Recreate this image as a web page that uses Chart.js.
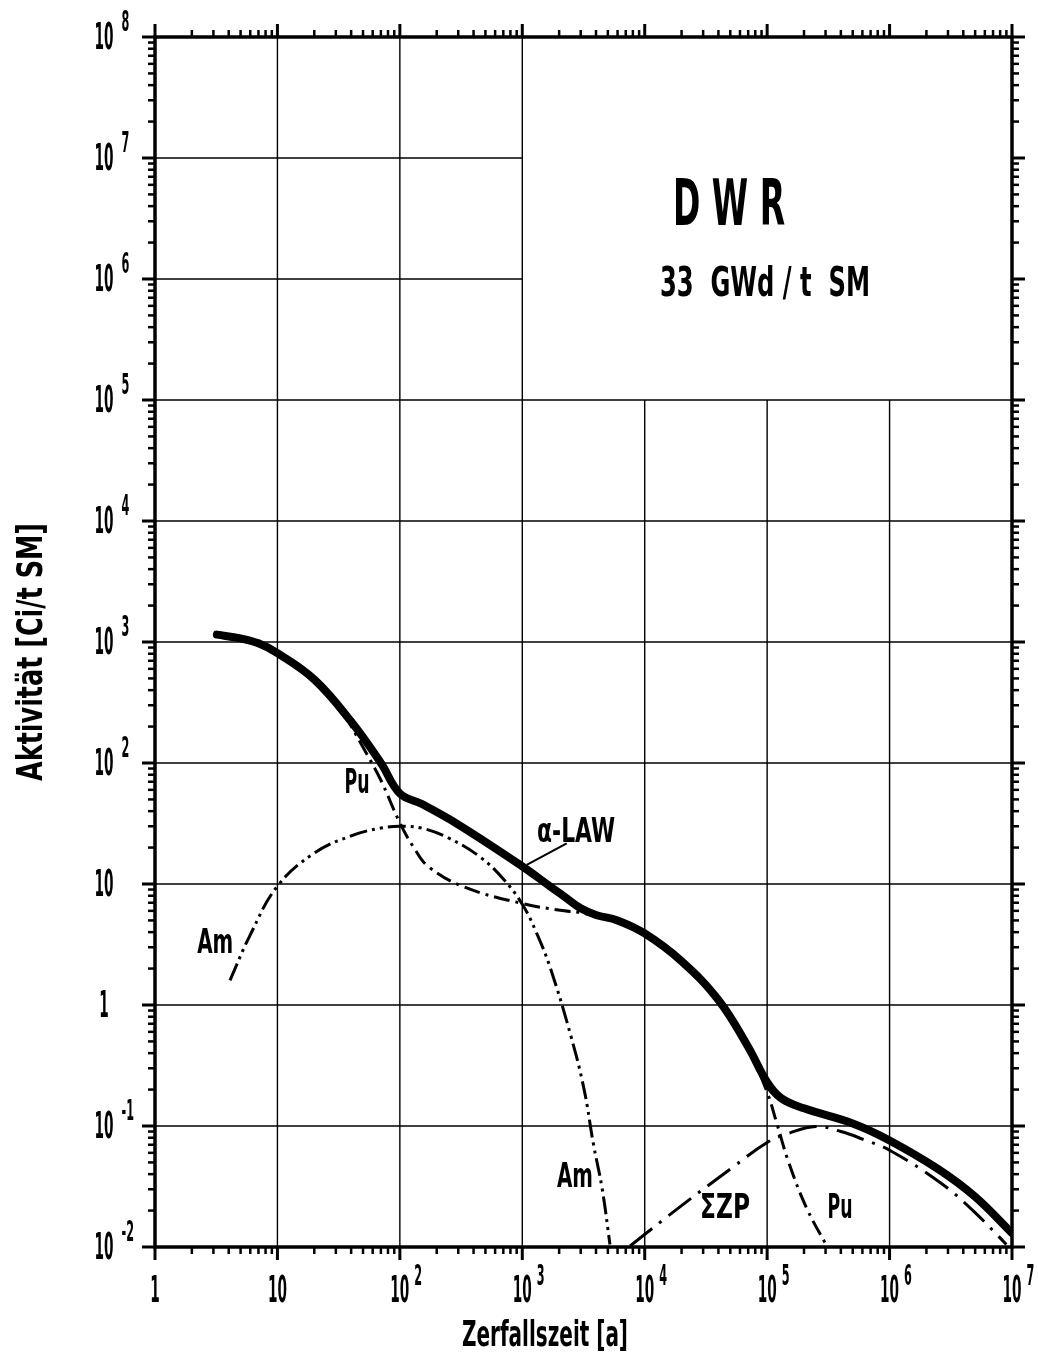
<!DOCTYPE html>
<html>
<head>
<meta charset="utf-8">
<script src="https://cdn.jsdelivr.net/npm/chart.js@4.4.1/dist/chart.umd.min.js"></script>
<style>
  html, body { margin: 0; padding: 0; background: #fff; }
  canvas { display: block; }
</style>
</head>
<body>
<canvas id="chart" width="1038" height="1355"></canvas>
<script>
// ─── Data ────────────────────────────────────────────────────────
const alphaX = [3.2, 5, 7, 10, 20, 40, 70, 100, 150, 300, 1000, 1700, 2200, 3000, 4000, 6000, 1e4, 2e4, 4e4, 7e4, 1e5, 1.3e5, 2e5, 5e5, 1e6, 2.5e6, 5e6, 1e7];
const alphaY = [1150, 1070, 975, 810, 490, 220, 100, 56, 46, 31, 14, 9.5, 7.9, 6.3, 5.55, 5.0, 3.9, 2.3, 1.1, 0.45, 0.23, 0.17, 0.14, 0.105, 0.076, 0.044, 0.026, 0.013];

const puX = [35, 50, 70, 100, 130, 170, 330, 1000, 2200, 3000, 6000, 1e4, 2e4, 4e4, 7e4, 1e5, 1.2e5, 1.5e5, 2.1e5, 3.1e5];
const puY = [255, 135, 72, 32, 20, 14, 9.5, 6.9, 6.0, 5.8, 4.8, 3.8, 2.2, 1.05, 0.43, 0.19, 0.105, 0.05, 0.021, 0.01];

const amX = [4.1, 6, 10, 20, 40, 70, 100, 150, 250, 450, 700, 1000, 1300, 1700, 2500, 3200, 3800, 4500, 5200];
const amY = [1.6, 3.8, 9.6, 18, 25, 29, 30, 29, 24, 16.8, 11, 6.8, 4.0, 2.0, 0.55, 0.2, 0.072, 0.03, 0.0105];

const zpX = [7600, 2e4, 5e4, 1e5, 1.5e5, 2.5e5, 4e5, 6e5, 1e6, 2.6e6, 4.8e6, 9e6];
const zpY = [0.0102, 0.022, 0.044, 0.073, 0.087, 0.099, 0.090, 0.078, 0.063, 0.034, 0.020, 0.0105];

// tick labels: mantissa + superscript exponent
const xTicks    = [1, 10, 1e2, 1e3, 1e4, 1e5, 1e6, 1e7];
const xTickBase = ['1', '10', '10', '10', '10', '10', '10', '10'];
const xTickExp  = ['', '', '2', '3', '4', '5', '6', '7'];
const yTicks    = [1e-2, 1e-1, 1, 10, 1e2, 1e3, 1e4, 1e5, 1e6, 1e7, 1e8];
const yTickBase = ['10', '10', '1', '10', '10', '10', '10', '10', '10', '10', '10'];
const yTickExp  = ['-2', '-1', '', '', '2', '3', '4', '5', '6', '7', '8'];

// curve labels [text, x, y]
const curveLabels = [
  ['Pu',    44.7,  71],
  ['α-LAW', 2750,  27.9],
  ['Am',    3.1,   3.4],
  ['Am',    2690,  0.039],
  ['ΣZP',   45300, 0.022],
  ['Pu',    3.94e5, 0.022],
];

const FONT = '"Liberation Sans Narrow", "DejaVu Sans Condensed", sans-serif';
const BOX_X = 1e3, BOX_Y = 1e5;   // blank upper-right panel for the title

const pts = (xs, ys) => xs.map((x, i) => ({ x, y: ys[i] }));

function drawText(ctx, s, x, y, size, o = {}) {
  ctx.save();
  ctx.font = `bold ${size}px ${FONT}`;
  ctx.textAlign = o.align || 'center';
  ctx.textBaseline = 'alphabetic';
  ctx.fillStyle = '#000';
  ctx.translate(x, y);
  if (o.rot) ctx.rotate(o.rot);
  const w = ctx.measureText(s).width;
  const sx = o.width ? o.width / w : (o.sx || 1);
  ctx.scale(sx, 1);
  ctx.fillText(s, 0, 0);
  ctx.restore();
  return w * sx;
}

function line(ctx, x1, y1, x2, y2) {
  ctx.beginPath();
  ctx.moveTo(x1, y1);
  ctx.lineTo(x2, y2);
  ctx.stroke();
}

// ─── Grid, frame, ticks, labels ──────────────────────────────────
const framePlugin = {
  id: 'frame',
  beforeDatasetsDraw(chart) {
    const { ctx, chartArea: a, scales: { x, y } } = chart;
    ctx.save();
    ctx.strokeStyle = '#000';
    ctx.lineWidth = 1.4;
    xTicks.slice(1, -1).forEach(v => {
      const px = x.getPixelForValue(v);
      const y0 = v > BOX_X ? y.getPixelForValue(BOX_Y) : a.top;
      line(ctx, px, y0, px, a.bottom);
    });
    yTicks.slice(1, -1).forEach(v => {
      const py = y.getPixelForValue(v);
      const x1 = v > BOX_Y ? x.getPixelForValue(BOX_X) : a.right;
      line(ctx, a.left, py, x1, py);
    });
    ctx.restore();
  },
  afterDatasetsDraw(chart) {
    const { ctx, chartArea: a, scales: { x, y } } = chart;
    ctx.save();
    ctx.strokeStyle = '#000';
    ctx.lineCap = 'butt';

    // minor + major ticks, pointing outward on all four sides
    xTicks.forEach(d => {
      for (let m = 1; m <= 9; m++) {
        const v = d * m;
        if (v > x.max * 1.0001) break;
        const px = x.getPixelForValue(v);
        const len = m === 1 ? 13 : 7;
        ctx.lineWidth = m === 1 ? 3 : 2.5;
        line(ctx, px, a.bottom, px, a.bottom + len);
        line(ctx, px, a.top, px, a.top - len);
      }
    });
    yTicks.forEach(d => {
      for (let m = 1; m <= 9; m++) {
        const v = d * m;
        if (v > y.max * 1.0001) break;
        const py = y.getPixelForValue(v);
        const len = m === 1 ? 13 : 7;
        ctx.lineWidth = m === 1 ? 3 : 2.5;
        line(ctx, a.left, py, a.left - len, py);
        line(ctx, a.right, py, a.right + len, py);
      }
    });

    ctx.lineWidth = 3.5;
    ctx.strokeRect(a.left, a.top, a.right - a.left, a.bottom - a.top);

    // tick labels
    ctx.font = `bold 37px ${FONT}`;
    const sx = 19 / ctx.measureText('10').width;
    xTicks.forEach((v, i) => {
      const px = x.getPixelForValue(v);
      const w = drawText(ctx, xTickBase[i], px, a.bottom + 55, 37, { sx });
      if (xTickExp[i]) drawText(ctx, xTickExp[i], px + w / 2 + 5, a.bottom + 38, 29, { sx: sx * 1.05, align: 'left' });
    });
    yTicks.forEach((v, i) => {
      const py = y.getPixelForValue(v);
      const w = drawText(ctx, yTickBase[i], 104, py + 12, 37, { sx });
      if (yTickExp[i]) drawText(ctx, yTickExp[i], 104 + w / 2 + 8, py - 6, 29, { sx: sx * 1.05, align: 'left' });
    });

    // axis titles
    drawText(ctx, 'Zerfallszeit [a]', 545, 1346, 35, { width: 166 });
    drawText(ctx, 'Aktivität [Ci/t SM]', 42, 652, 35, { width: 258, rot: -Math.PI / 2 });

    // panel title
    drawText(ctx, 'D W R', 729, 225, 64, { width: 112 });
    drawText(ctx, '33  GWd / t  SM', 765, 296, 40, { width: 210 });

    // curve labels
    curveLabels.forEach(([s, vx, vy]) => {
      const w = { 'Pu': 25, 'α-LAW': 78, 'Am': 36, 'ΣZP': 50 }[s];
      drawText(ctx, s, x.getPixelForValue(vx), y.getPixelForValue(vy) + 12, 33, { width: w });
    });

    // leader line from α-LAW label to its curve
    ctx.lineWidth = 2;
    line(ctx, x.getPixelForValue(1087), y.getPixelForValue(14.4),
              x.getPixelForValue(2306), y.getPixelForValue(21.7));
    ctx.restore();
  }
};

// ─── Chart ───────────────────────────────────────────────────────
const common = {
  borderColor: '#000',
  pointRadius: 0,
  fill: false,
  tension: 0.4,
};

new Chart(document.getElementById('chart'), {
  type: 'line',
  data: {
    datasets: [
      { ...common, label: 'α-LAW', data: pts(alphaX, alphaY), borderWidth: 8, borderCapStyle: 'round' },
      { ...common, label: 'Pu',    data: pts(puX, puY),       borderWidth: 3, borderDash: [16, 6, 3, 6] },
      { ...common, label: 'Am',    data: pts(amX, amY),       borderWidth: 3, borderDash: [18, 5, 3, 5, 3, 5] },
      { ...common, label: 'ΣZP',   data: pts(zpX, zpY),       borderWidth: 3, borderDash: [28, 9, 3, 9] },
    ]
  },
  options: {
    responsive: false,
    animation: false,
    devicePixelRatio: 1,
    layout: { padding: { left: 155, right: 26, top: 37, bottom: 108 } },
    plugins: {
      legend: { display: false },
      tooltip: { enabled: false },
    },
    scales: {
      x: { type: 'logarithmic', min: 1, max: 1e7, display: false },
      y: { type: 'logarithmic', min: 1e-2, max: 1e8, display: false },
    }
  },
  plugins: [framePlugin]
});
</script>
</body>
</html>
